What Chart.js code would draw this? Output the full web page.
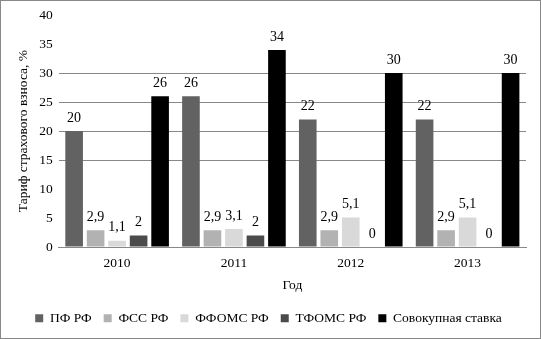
<!DOCTYPE html>
<html>
<head>
<meta charset="utf-8">
<script src="https://cdn.jsdelivr.net/npm/chart.js@4/dist/chart.umd.min.js"></script>
<style>
  html, body { margin: 0; padding: 0; background: #fff; }
  #wrap { width: 539px; height: 337px; border: 1px solid #888; position: relative; }
</style>
</head>
<body>
<div id="wrap"><canvas id="myChart"></canvas></div>
<script>
const years = ["2010", "2011", "2012", "2013"];
const pfr = [20, 26, 22, 22];
const fss = [2.9, 2.9, 2.9, 2.9];
const ffoms = [1.1, 3.1, 5.1, 5.1];
const tfoms = [2, 2, 0, 0];
const total = [26, 34, 30, 30];

Chart.defaults.font.family = "'Liberation Serif', 'Times New Roman', serif";
Chart.defaults.font.size = 13.5;
Chart.defaults.color = "#000";

// value labels above every bar, comma as decimal sign
const valueLabels = {
  id: "valueLabels",
  afterDatasetsDraw(chart) {
    const ctx = chart.ctx;
    ctx.save();
    ctx.font = "14px 'Liberation Serif', serif";
    ctx.fillStyle = "#000";
    ctx.textAlign = "center";
    ctx.textBaseline = "bottom";
    chart.data.datasets.forEach((ds, i) => {
      chart.getDatasetMeta(i).data.forEach((bar, j) => {
        const txt = String(ds.data[j]).replace(".", ",");
        ctx.fillText(txt, bar.x, bar.y - 6);
      });
    });
    ctx.restore();
  },
};

new Chart(document.querySelector("#myChart").getContext("2d"), {
  type: "bar",
  data: {
    labels: years,
    datasets: [
      { label: "ПФ РФ", data: pfr, backgroundColor: "#626262" },
      { label: "ФСС РФ", data: fss, backgroundColor: "#b2b2b2" },
      { label: "ФФОМС РФ", data: ffoms, backgroundColor: "#d9d9d9" },
      { label: "ТФОМС РФ", data: tfoms, backgroundColor: "#4b4b4b" },
      { label: "Совокупная ставка", data: total, backgroundColor: "#000" },
    ],
  },
  options: {
    responsive: true,
    maintainAspectRatio: false,
    animation: false,
    datasets: { bar: { categoryPercentage: 0.92, barPercentage: 0.82 } },
    layout: { padding: { left: 10, right: 14, top: 1, bottom: 3 } },
    scales: {
      x: {
        grid: { display: false },
        border: { display: true, color: "#888" },
        ticks: { padding: 0 },
        title: { display: true, text: "Год", padding: { top: 6, bottom: 6 } },
      },
      y: {
        min: 0,
        max: 40,
        ticks: { stepSize: 5, padding: 6 },
        border: { display: false },
        grid: {
          drawTicks: false,
          color: (c) => (c.tick && c.tick.value >= 15 && c.tick.value <= 30 ? "#888" : "rgba(0,0,0,0)"),
        },
        title: { display: true, text: "Тариф страхового взноса, %", padding: { bottom: 2 } },
      },
    },
    plugins: {
      legend: {
        position: "bottom",
        labels: { boxWidth: 8, boxHeight: 8, padding: 12, color: "#000", font: { size: 13.5 } },
      },
      tooltip: { enabled: false },
    },
  },
  plugins: [valueLabels],
});
</script>
</body>
</html>
